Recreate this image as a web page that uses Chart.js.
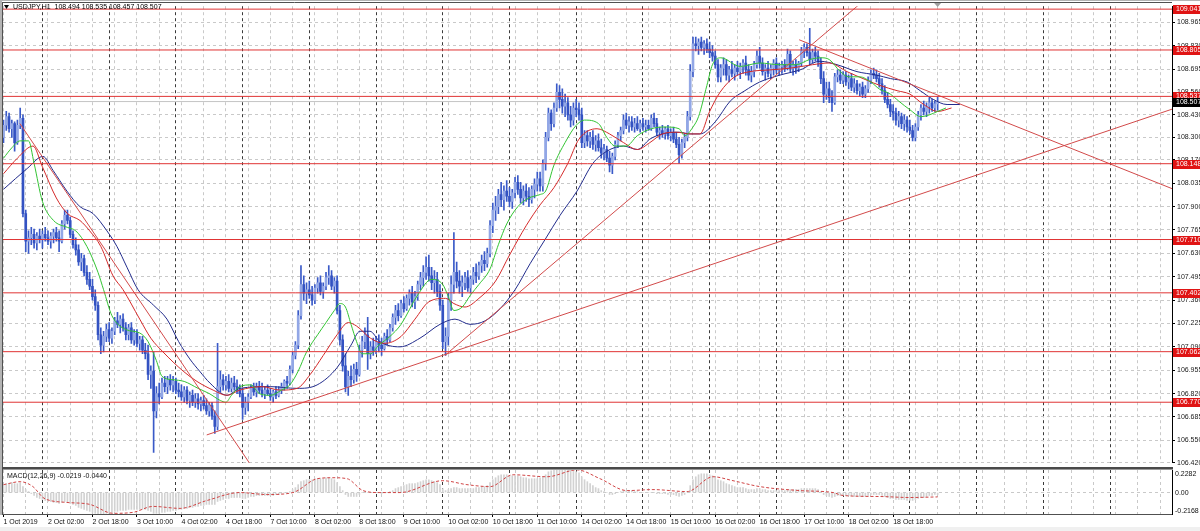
<!DOCTYPE html>
<html><head><meta charset="utf-8">
<script src="https://cdn.jsdelivr.net/npm/chart.js@4.4.1/dist/chart.umd.min.js"></script>
<style>
html,body{margin:0;padding:0;background:#fff;}
#wrap{position:relative;width:1200px;height:531px;overflow:hidden;background:#fff;}
#c1{position:absolute;left:0;top:0;}
#c2{position:absolute;left:0;top:469px;}
#foot{position:absolute;left:0;top:527px;width:1200px;height:4px;background:#f0f0f0;}
</style></head>
<body><div id="wrap"><canvas id="c1" width="1200" height="469"></canvas><canvas id="c2" width="1200" height="58"></canvas><div id="foot"></div></div>
<script>
// ---------- DATA ----------
const open = [
108.30,108.37,108.42,108.35,108.38,108.27,108.37,108.41,107.86,107.70,
107.72,107.74,107.69,107.73,107.71,107.74,107.72,107.70,107.73,107.75,
107.72,107.70,107.80,107.85,107.82,107.74,107.68,107.65,107.58,107.60,
107.52,107.48,107.44,107.38,107.33,107.16,107.10,107.15,107.19,107.14,
107.18,107.24,107.22,107.25,107.20,107.16,107.20,107.13,107.17,107.11,
107.13,107.07,107.05,106.93,106.95,106.72,106.82,106.80,106.88,106.86,
106.90,106.87,106.89,106.84,106.83,106.80,106.84,106.78,106.81,106.77,
106.79,106.76,106.78,106.75,106.72,106.75,106.69,106.63,106.86,106.90,
106.87,106.89,106.85,106.88,106.86,106.84,106.82,106.74,106.77,106.80,
106.85,106.83,106.86,106.84,106.82,106.84,106.82,106.80,106.83,106.81,
106.84,106.86,106.89,106.88,106.96,107.04,107.10,107.27,107.45,107.40,
107.42,107.39,107.36,107.43,107.46,107.41,107.44,107.49,107.50,107.44,
107.47,107.30,107.13,106.98,106.86,106.92,106.90,106.96,106.93,107.07,
107.12,107.16,107.05,107.09,107.07,107.12,107.10,107.08,107.15,107.13,
107.20,107.26,107.30,107.27,107.34,107.31,107.37,107.40,107.35,107.38,
107.45,107.49,107.52,107.55,107.50,107.46,107.48,107.41,107.33,107.12,
107.15,107.36,107.45,107.52,107.47,107.44,107.46,107.49,107.43,107.48,
107.52,107.50,107.56,107.59,107.57,107.63,107.79,107.88,107.90,107.97,
107.94,107.99,107.96,107.93,107.98,108.04,108.00,107.95,107.99,107.96,
107.94,108.00,108.03,108.06,108.02,108.15,108.30,108.44,108.38,108.47,
108.56,108.52,108.48,108.50,108.43,108.40,108.47,108.46,108.43,108.27,
108.31,108.28,108.30,108.26,108.28,108.24,108.21,108.23,108.18,108.14,
108.19,108.26,108.31,108.34,108.40,108.37,108.39,108.36,108.38,108.35,
108.38,108.36,108.37,108.35,108.41,108.38,108.33,108.34,108.32,108.35,
108.31,108.33,108.29,108.26,108.20,108.27,108.30,108.42,108.68,108.84,
108.83,108.85,108.82,108.84,108.81,108.79,108.77,108.72,108.65,108.70,
108.72,108.66,108.69,108.67,108.70,108.68,108.71,108.73,108.69,108.66,
108.68,108.72,108.77,108.73,108.68,108.70,108.67,108.70,108.73,108.69,
108.71,108.72,108.70,108.78,108.70,108.72,108.70,108.73,108.80,108.82,
108.79,108.75,108.79,108.77,108.74,108.64,108.55,108.58,108.53,108.50,
108.65,108.66,108.63,108.66,108.62,108.64,108.59,108.61,108.57,108.59,
108.55,108.58,108.63,108.67,108.66,108.64,108.61,108.57,108.52,108.49,
108.45,108.44,108.40,108.42,108.38,108.40,108.36,108.34,108.30,108.36,
108.43,108.47,108.45,108.48,108.50,108.47,108.494];
const high = [
108.40,108.45,108.44,108.40,108.39,108.40,108.47,108.43,107.88,107.76,
107.78,107.77,107.75,107.77,107.76,107.78,107.76,107.75,107.77,107.78,
107.76,107.82,107.88,107.88,107.84,107.76,107.72,107.68,107.63,107.62,
107.56,107.52,107.48,107.42,107.35,107.20,107.18,107.22,107.23,107.20,
107.26,107.29,107.27,107.28,107.23,107.22,107.23,107.19,107.19,107.15,
107.15,107.11,107.10,106.98,107.06,106.86,106.88,106.91,106.92,106.92,
106.93,106.92,106.91,106.88,106.87,106.86,106.86,106.83,106.84,106.82,
106.82,106.80,106.81,106.79,106.77,106.77,106.72,107.11,106.95,106.93,
106.92,106.93,106.91,106.92,106.90,106.87,106.85,106.80,106.82,106.87,
106.88,106.88,106.89,106.88,106.86,106.87,106.85,106.84,106.86,106.86,
106.88,106.90,106.92,106.98,107.06,107.12,107.30,107.56,107.50,107.46,
107.47,107.44,107.45,107.49,107.50,107.46,107.52,107.56,107.53,107.49,
107.50,107.33,107.16,107.05,106.95,106.98,106.99,107.00,107.10,107.15,
107.20,107.26,107.12,107.14,107.15,107.16,107.14,107.17,107.19,107.22,
107.28,107.33,107.34,107.36,107.38,107.39,107.42,107.44,107.41,107.47,
107.52,107.56,107.61,107.62,107.55,107.53,107.52,107.45,107.36,107.20,
107.40,107.50,107.75,107.58,107.53,107.50,107.52,107.53,107.50,107.55,
107.57,107.58,107.62,107.64,107.66,107.82,107.92,107.96,108.00,108.04,
108.02,108.05,108.01,108.00,108.07,108.08,108.04,108.02,108.03,108.01,
108.02,108.06,108.10,108.10,108.17,108.33,108.47,108.46,108.50,108.61,
108.60,108.58,108.55,108.53,108.48,108.50,108.52,108.50,108.47,108.34,
108.34,108.33,108.34,108.31,108.32,108.29,108.26,108.25,108.22,108.21,
108.28,108.33,108.36,108.43,108.44,108.42,108.42,108.41,108.42,108.40,
108.41,108.40,108.40,108.43,108.44,108.41,108.36,108.37,108.36,108.37,
108.35,108.36,108.33,108.30,108.29,108.32,108.45,108.72,108.88,108.88,
108.87,108.88,108.86,108.87,108.85,108.83,108.80,108.75,108.72,108.76,
108.75,108.71,108.74,108.72,108.74,108.73,108.75,108.77,108.72,108.71,
108.74,108.80,108.82,108.76,108.72,108.74,108.72,108.75,108.76,108.73,
108.74,108.75,108.81,108.80,108.74,108.75,108.74,108.82,108.84,108.84,
108.93,108.81,108.82,108.80,108.76,108.68,108.62,108.62,108.57,108.67,
108.69,108.69,108.68,108.68,108.66,108.67,108.64,108.63,108.61,108.62,
108.60,108.65,108.69,108.70,108.69,108.67,108.64,108.60,108.56,108.52,
108.49,108.47,108.45,108.44,108.43,108.42,108.40,108.37,108.38,108.45,
108.49,108.51,108.50,108.53,108.52,108.51,108.535];
const low = [
108.27,108.34,108.33,108.30,108.22,108.26,108.35,107.84,107.64,107.63,
107.68,107.66,107.65,107.69,107.66,107.70,107.68,107.66,107.69,107.70,
107.64,107.69,107.77,107.80,107.72,107.66,107.62,107.56,107.53,107.50,
107.45,107.42,107.36,107.30,107.13,107.05,107.06,107.12,107.12,107.11,
107.16,107.20,107.17,107.18,107.13,107.13,107.11,107.10,107.09,107.07,
107.05,107.02,106.90,106.85,106.48,106.68,106.76,106.79,106.83,106.82,
106.84,106.83,106.82,106.80,106.78,106.77,106.76,106.74,106.75,106.74,
106.73,106.72,106.73,106.70,106.69,106.67,106.59,106.61,106.83,106.84,
106.84,106.83,106.83,106.84,106.82,106.80,106.67,106.70,106.72,106.79,
106.81,106.80,106.82,106.80,106.79,106.81,106.78,106.77,106.79,106.80,
106.82,106.84,106.85,106.87,106.94,107.02,107.08,107.25,107.36,107.34,
107.37,107.33,107.34,107.40,107.39,107.37,107.42,107.45,107.42,107.40,
107.28,107.10,106.95,106.83,106.81,106.86,106.88,106.89,106.92,107.03,
107.08,106.96,107.02,107.04,107.05,107.06,107.04,107.07,107.10,107.12,
107.18,107.22,107.24,107.26,107.29,107.30,107.33,107.32,107.31,107.36,
107.42,107.44,107.48,107.47,107.42,107.40,107.38,107.30,107.08,107.04,
107.10,107.30,107.40,107.43,107.40,107.38,107.42,107.41,107.40,107.45,
107.46,107.48,107.52,107.53,107.55,107.61,107.75,107.82,107.86,107.90,
107.88,107.93,107.90,107.89,107.95,107.97,107.92,107.91,107.93,107.90,
107.92,107.95,107.99,107.99,107.99,108.11,108.28,108.34,108.36,108.45,
108.47,108.44,108.42,108.40,108.36,108.37,108.42,108.40,108.24,108.24,
108.25,108.24,108.23,108.22,108.22,108.18,108.17,108.16,108.10,108.09,
108.17,108.24,108.28,108.32,108.35,108.33,108.34,108.33,108.34,108.33,
108.34,108.33,108.34,108.34,108.36,108.31,108.29,108.30,108.29,108.29,
108.28,108.27,108.24,108.15,108.18,108.24,108.28,108.40,108.65,108.80,
108.78,108.80,108.78,108.79,108.76,108.74,108.70,108.62,108.62,108.66,
108.63,108.62,108.65,108.63,108.66,108.64,108.67,108.66,108.63,108.62,
108.65,108.70,108.70,108.66,108.63,108.65,108.64,108.66,108.67,108.66,
108.67,108.68,108.69,108.68,108.66,108.67,108.68,108.71,108.76,108.77,
108.72,108.73,108.74,108.71,108.61,108.50,108.52,108.50,108.45,108.49,
108.62,108.61,108.61,108.60,108.58,108.57,108.56,108.55,108.54,108.53,
108.53,108.56,108.61,108.64,108.62,108.59,108.55,108.50,108.47,108.42,
108.40,108.37,108.36,108.35,108.34,108.33,108.32,108.28,108.28,108.34,
108.40,108.43,108.42,108.44,108.45,108.45,108.457];
const close = [
108.37,108.42,108.35,108.38,108.27,108.37,108.41,107.86,107.70,107.72,
107.74,107.69,107.73,107.71,107.74,107.72,107.70,107.73,107.75,107.72,
107.70,107.80,107.85,107.82,107.74,107.68,107.65,107.58,107.60,107.52,
107.48,107.44,107.38,107.33,107.16,107.10,107.15,107.19,107.14,107.18,
107.24,107.22,107.25,107.20,107.16,107.20,107.13,107.17,107.11,107.13,
107.07,107.05,106.93,106.95,106.72,106.82,106.80,106.88,106.86,106.90,
106.87,106.89,106.84,106.83,106.80,106.84,106.78,106.81,106.77,106.79,
106.76,106.78,106.75,106.72,106.75,106.69,106.63,106.86,106.90,106.87,
106.89,106.85,106.88,106.86,106.84,106.82,106.74,106.77,106.80,106.85,
106.83,106.86,106.84,106.82,106.84,106.82,106.80,106.83,106.81,106.84,
106.86,106.89,106.88,106.96,107.04,107.10,107.27,107.45,107.40,107.42,
107.39,107.36,107.43,107.46,107.41,107.44,107.49,107.50,107.44,107.47,
107.30,107.13,106.98,106.86,106.92,106.90,106.96,106.93,107.07,107.12,
107.16,107.05,107.09,107.07,107.12,107.10,107.08,107.15,107.13,107.20,
107.26,107.30,107.27,107.34,107.31,107.37,107.40,107.35,107.38,107.45,
107.49,107.52,107.55,107.50,107.46,107.48,107.41,107.33,107.12,107.15,
107.36,107.45,107.52,107.47,107.44,107.46,107.49,107.43,107.48,107.52,
107.50,107.56,107.59,107.57,107.63,107.79,107.88,107.90,107.97,107.94,
107.99,107.96,107.93,107.98,108.04,108.00,107.95,107.99,107.96,107.94,
108.00,108.03,108.06,108.02,108.15,108.30,108.44,108.38,108.47,108.56,
108.52,108.48,108.50,108.43,108.40,108.47,108.46,108.43,108.27,108.31,
108.28,108.30,108.26,108.28,108.24,108.21,108.23,108.18,108.14,108.19,
108.26,108.31,108.34,108.40,108.37,108.39,108.36,108.38,108.35,108.38,
108.36,108.37,108.35,108.41,108.38,108.33,108.34,108.32,108.35,108.31,
108.33,108.29,108.26,108.20,108.27,108.30,108.42,108.68,108.84,108.83,
108.85,108.82,108.84,108.81,108.79,108.77,108.72,108.65,108.70,108.72,
108.66,108.69,108.67,108.70,108.68,108.71,108.73,108.69,108.66,108.68,
108.72,108.77,108.73,108.68,108.70,108.67,108.70,108.73,108.69,108.71,
108.72,108.70,108.78,108.70,108.72,108.70,108.73,108.80,108.82,108.79,
108.75,108.79,108.77,108.74,108.64,108.55,108.58,108.53,108.50,108.65,
108.66,108.63,108.66,108.62,108.64,108.59,108.61,108.57,108.59,108.55,
108.58,108.63,108.67,108.66,108.64,108.61,108.57,108.52,108.49,108.45,
108.44,108.40,108.42,108.38,108.40,108.36,108.34,108.30,108.36,108.43,
108.47,108.45,108.48,108.50,108.47,108.494,108.507];

// Alligator lines (bar position, price)
const lipsIdx = [0,3,6,9,11,14,18,23,26,30,34,36,39,44,49,52,55,57,61,65,70,74,78,80,82,85,89,92,96,100,103,106,109,113,116,119,121,123,125,127,129,132,135,139,143,149,154,158,160,162,165,168,171,175,178,181,185,189,193,195,198,202,206,209,214,217,220,224,228,233,238,243,245,248,250,253,255,258,265,272,279,285,290,294,297,301,304,308,312,315,319,322,326,330,333,336,339];
const lipsVal = [108.18,108.24,108.28,108.28,108.15,107.93,107.82,107.78,107.76,107.67,107.52,107.42,107.27,107.19,107.17,107.12,107.01,106.92,106.90,106.89,106.85,106.82,106.78,106.77,106.81,106.86,106.87,106.82,106.81,106.84,106.87,106.95,107.06,107.16,107.23,107.30,107.34,107.32,107.22,107.12,107.05,107.05,107.10,107.15,107.22,107.39,107.48,107.45,107.38,107.30,107.32,107.39,107.45,107.54,107.68,107.80,107.90,107.95,107.97,107.99,108.14,108.27,108.37,108.40,108.38,108.30,108.25,108.25,108.31,108.35,108.36,108.35,108.31,108.36,108.42,108.60,108.72,108.76,108.71,108.73,108.72,108.72,108.75,108.76,108.75,108.68,108.65,108.65,108.62,108.58,108.55,108.51,108.46,108.42,108.43,108.45,108.47];
const teethIdx = [0,5,10.6,14,19,23,27.5,31,35,39.4,43,49,53,57.4,64.6,69.6,75.4,80.4,85,93,99.5,105.6,110.3,115,120,124,127,132,137,143,148,153,159,162,166,171,177,182,188,193,198,203,207,213.5,218,223,228,232.5,237,242,247,250.5,254,257.7,263,268.5,275.7,283,291,297,303.4,310.6,315.3,321.4,326,331,336,341];
const teethVal = [108.09,108.18,108.25,108.13,107.95,107.86,107.82,107.76,107.67,107.50,107.42,107.25,107.14,107.06,106.95,106.89,106.84,106.81,106.84,106.86,106.84,106.85,106.93,107.04,107.16,107.23,107.21,107.14,107.11,107.15,107.25,107.35,107.37,107.34,107.32,107.37,107.47,107.62,107.79,107.91,108.01,108.15,108.29,108.35,108.32,108.27,108.23,108.27,108.32,108.33,108.32,108.32,108.45,108.56,108.65,108.68,108.69,108.70,108.72,108.73,108.68,108.63,108.60,108.57,108.55,108.49,108.45,108.47];
const jawIdx = [0,8.5,14.2,17.8,22.8,27.5,32.2,37.2,40.8,44.4,48.4,54,58.8,63,67,70.5,74.3,80.4,85,96,105.6,112.8,120,125,128.2,131.8,135.4,142.6,149.8,157,162.4,167.8,173.2,178.6,184,189.4,194.8,200.2,206.3,212,217,223,228,232.5,237,243,247,250.5,256,261.4,266.7,272,279.3,286.5,293.7,299.8,307,314,319,325,329.7,334.4,339.4,344];
const jawVal = [108.00,108.12,108.19,108.11,107.99,107.90,107.86,107.76,107.67,107.55,107.42,107.33,107.25,107.12,107.02,106.95,106.88,106.81,106.85,106.86,106.85,106.87,106.97,107.10,107.18,107.18,107.12,107.09,107.14,107.22,107.25,107.22,107.24,107.31,107.42,107.57,107.71,107.85,107.99,108.15,108.22,108.25,108.23,108.29,108.32,108.33,108.32,108.32,108.39,108.51,108.57,108.62,108.66,108.69,108.74,108.72,108.68,108.66,108.64,108.62,108.57,108.52,108.49,108.49];

// MACD histogram per bar and signal line
const macdHist = [
0.08,0.09,0.09,0.10,0.09,0.09,0.10,0.06,0.03,0.01,-0.01,-0.03,-0.05,-0.06,
-0.07,-0.08,-0.09,-0.09,-0.10,-0.10,-0.11,-0.10,-0.09,-0.10,-0.11,-0.12,-0.13,-0.15,
-0.16,-0.17,-0.18,-0.19,-0.20,-0.21,-0.22,-0.22,-0.22,-0.21,-0.21,-0.20,-0.19,-0.19,
-0.18,-0.18,-0.18,-0.17,-0.17,-0.17,-0.17,-0.17,-0.17,-0.17,-0.18,-0.19,-0.21,-0.21,
-0.21,-0.20,-0.20,-0.19,-0.19,-0.18,-0.18,-0.17,-0.17,-0.16,-0.16,-0.15,-0.15,-0.14,
-0.14,-0.13,-0.13,-0.12,-0.12,-0.12,-0.12,-0.09,-0.08,-0.07,-0.06,-0.06,-0.05,-0.05,
-0.05,-0.05,-0.06,-0.06,-0.05,-0.04,-0.04,-0.03,-0.03,-0.03,-0.03,-0.03,-0.03,-0.03,
-0.02,-0.02,-0.01,0.00,0.00,0.01,0.03,0.05,0.08,0.11,0.12,0.13,0.13,0.13,
0.13,0.14,0.14,0.14,0.15,0.15,0.14,0.13,0.10,0.06,0.02,-0.02,-0.04,-0.04,
-0.04,-0.04,-0.02,0.00,0.01,0.00,0.00,0.00,0.00,0.00,-0.01,0.00,0.00,0.01,
0.02,0.04,0.05,0.06,0.07,0.08,0.09,0.09,0.09,0.10,0.11,0.12,0.13,0.13,
0.12,0.11,0.10,0.08,0.04,0.02,0.03,0.04,0.05,0.05,0.04,0.04,0.04,0.04,
0.04,0.04,0.05,0.05,0.06,0.06,0.07,0.10,0.13,0.15,0.17,0.18,0.18,0.18,
0.17,0.17,0.17,0.17,0.16,0.15,0.15,0.14,0.14,0.14,0.14,0.15,0.16,0.18,
0.21,0.22,0.23,0.25,0.26,0.26,0.25,0.24,0.23,0.22,0.21,0.20,0.16,0.13,
0.11,0.09,0.07,0.05,0.04,0.02,0.01,0.00,-0.02,-0.02,-0.01,0.00,0.01,0.02,
0.02,0.02,0.02,0.01,0.01,0.00,0.00,0.00,0.00,0.00,0.00,-0.01,-0.01,-0.01,
-0.01,-0.02,-0.02,-0.02,-0.03,-0.04,-0.03,-0.02,0.01,0.07,0.13,0.16,0.18,0.19,
0.19,0.19,0.18,0.17,0.15,0.13,0.12,0.11,0.09,0.08,0.07,0.06,0.05,0.05,
0.05,0.04,0.03,0.03,0.03,0.04,0.04,0.03,0.03,0.02,0.02,0.02,0.02,0.02,
0.02,0.02,0.03,0.03,0.03,0.03,0.03,0.04,0.04,0.04,0.04,0.04,0.04,0.03,
0.01,-0.02,-0.03,-0.04,-0.05,-0.04,-0.03,-0.03,-0.03,-0.03,-0.03,-0.03,-0.04,-0.04,
-0.04,-0.04,-0.04,-0.03,-0.02,-0.02,-0.02,-0.02,-0.03,-0.04,-0.05,-0.06,-0.06,-0.07,
-0.07,-0.07,-0.07,-0.08,-0.08,-0.08,-0.07,-0.06,-0.05,-0.05,-0.04,-0.03,-0.03,-0.02,-0.022];
const signalIdx = [0,6,10.6,14.2,16.7,22.8,31.1,39.4,46.6,53.8,63.5,73.2,85,94.8,104.1,112.8,118.5,123.6,129.3,135.4,142.6,158,166.7,175,183.3,195.5,206.3,214.6,224.3,233.6,245.9,255.2,262.4,272.1,286.5,298.4,302,315.3,326.1,336];
const signalVal = [0.08,0.11,0.06,-0.05,-0.08,-0.10,-0.12,-0.21,-0.20,-0.14,-0.16,-0.08,0.00,-0.02,0.00,0.14,0.15,0.14,0.02,0.00,0.00,0.12,0.08,0.06,0.18,0.16,0.23,0.14,0.02,0.03,0.01,0.16,0.12,0.06,0.02,0.00,-0.03,-0.04,-0.05,-0.044];

// Axes text
const xLabels = ['1 Oct 2019','2 Oct 02:00','2 Oct 18:00','3 Oct 10:00','4 Oct 02:00','4 Oct 18:00','7 Oct 10:00','8 Oct 02:00','8 Oct 18:00','9 Oct 10:00','10 Oct 02:00','10 Oct 18:00','11 Oct 10:00','14 Oct 02:00','14 Oct 18:00','15 Oct 10:00','16 Oct 02:00','16 Oct 18:00','17 Oct 10:00','18 Oct 02:00','18 Oct 18:00'];
const yTicks = [108.965,108.830,108.695,108.560,108.430,108.300,108.170,108.035,107.900,107.765,107.630,107.495,107.360,107.225,107.090,106.955,106.820,106.685,106.550,106.420];
const levels = [109.041,108.805,108.537,108.148,107.710,107.402,107.062,106.770];
const bidPrice = 108.507;
const titleText = 'USDJPY,H1  108.494 108.535 108.457 108.507';
const macdText = 'MACD(12,26,9) -0.0219 -0.0440';
const macdLabels = [0.2282, 0.00, -0.2168];
// trendlines: start bar, start price, end bar, end price
const trendX1 = [73.1, 5.9, 158.8, 286.2];
const trendY1 = [106.581, 108.380, 107.041, 108.864];
const trendX2 = [420.3, 89.0, 320.0, 420.3];
const trendY2 = [108.463, 106.406, 109.234, 108.004];

// ---------- CHART ----------
Chart.defaults.font.family = "'Liberation Sans', Arial, sans-serif";
Chart.defaults.font.size = 7;
Chart.defaults.color = '#111';
const FONT = "7px 'Liberation Sans', Arial, sans-serif";
const xMin = -0.18, xMax = 420.3;
const pts = (idx, val) => idx.map((x, k) => ({x, y: val[k]}));
const gridTicks = [];
for (let v = 0; v <= 416; v += 8) gridTicks.push(v);
for (let v = 14; v <= 420; v += 24) gridTicks.push(v);
gridTicks.sort((a, b) => a - b);
const isDay = v => (v - 14) % 24 === 0;
const gridCol = c => (c.tick && isDay(c.tick.value)) ? '#3a3a3a' : '#c9c9c9';
const isLab = v => v % 16 === 0 && v / 16 < xLabels.length;

const wickCol = '#3a5ac8', bullCol = '#92a7e6', bearCol = '#3352c2';
const lineCol = '#e03434', trendCol = '#d24a4a';

const datasets = [];
levels.forEach(v => datasets.push({type:'line', data:[{x:xMin,y:v},{x:xMax,y:v}], borderColor:lineCol, borderWidth:1, pointRadius:0, order:1}));
trendX1.forEach((x, k) => datasets.push({type:'line', data:[{x, y:trendY1[k]},{x:trendX2[k], y:trendY2[k]}], borderColor:trendCol, borderWidth:1, pointRadius:0, order:1}));
datasets.push({type:'line', data:pts(lipsIdx, lipsVal), borderColor:'#33c433', borderWidth:1, pointRadius:0, cubicInterpolationMode:'monotone', order:3});
datasets.push({type:'line', data:pts(teethIdx, teethVal), borderColor:'#d42a2a', borderWidth:1, pointRadius:0, cubicInterpolationMode:'monotone', order:4});
datasets.push({type:'line', data:pts(jawIdx, jawVal), borderColor:'#222c8c', borderWidth:1, pointRadius:0, cubicInterpolationMode:'monotone', order:5});
datasets.push({type:'bar', data:open.map((o, i) => ({x:i, y:[o, close[i]]})), backgroundColor: c => close[c.dataIndex] >= open[c.dataIndex] ? bullCol : bearCol, barThickness:2, minBarLength:1, grouped:false, order:7});
datasets.push({type:'bar', data:high.map((h, i) => ({x:i, y:[low[i], h]})), backgroundColor:wickCol, barThickness:1, grouped:false, order:8});
datasets.push({type:'line', data:[{x:xMin,y:bidPrice},{x:xMax,y:bidPrice}], borderColor:'#c4c4c4', borderWidth:1, pointRadius:0, order:9});

const mainDecor = {
  id:'mainDecor',
  afterDraw(chart){
    const {ctx, chartArea:a} = chart; const y = chart.scales.y;
    ctx.save();
    ctx.fillStyle = '#b4b4b4'; ctx.fillRect(0, 0, 2, chart.height); ctx.fillRect(0, 0, 1200, 1);
    ctx.strokeStyle = '#505050'; ctx.lineWidth = 1;
    ctx.beginPath(); ctx.moveTo(2, 2.5); ctx.lineTo(a.right, 2.5); ctx.moveTo(2.5, 2); ctx.lineTo(2.5, chart.height); ctx.stroke();
    ctx.fillStyle = '#4a4a4a'; ctx.fillRect(2, 467, a.right - 1, 2);
    ctx.font = FONT; ctx.textBaseline = 'middle'; ctx.textAlign = 'left';
    for (const v of levels) {
      const py = Math.round(y.getPixelForValue(v));
      ctx.fillStyle = '#e01414'; ctx.fillRect(a.right + 1, py - 4, 27, 9);
      ctx.fillStyle = '#fff'; ctx.fillText(v.toFixed(3), a.right + 4, py + 0.5);
    }
    const pb = Math.round(y.getPixelForValue(bidPrice));
    ctx.fillStyle = '#000'; ctx.fillRect(a.right + 1, pb - 4, 27, 9);
    ctx.fillStyle = '#fff'; ctx.fillText(bidPrice.toFixed(3), a.right + 4, pb + 0.5);
    ctx.fillStyle = '#000';
    ctx.beginPath(); ctx.moveTo(4, 5); ctx.lineTo(9, 5); ctx.lineTo(6.5, 9); ctx.closePath(); ctx.fill();
    ctx.fillText(titleText, 13, 7.5);
    ctx.fillStyle = '#a0a0a0';
    const sx = chart.scales.x.getPixelForValue(close.length - 1);
    ctx.beginPath(); ctx.moveTo(sx - 3.5, 3); ctx.lineTo(sx + 3.5, 3); ctx.lineTo(sx, 7); ctx.closePath(); ctx.fill();
    ctx.restore();
  }
};

new Chart(document.getElementById('c1'), {
  type:'bar',
  data:{datasets},
  plugins:[mainDecor],
  options:{
    responsive:false, animation:false, devicePixelRatio:1,
    layout:{padding:{left:3, top:3, right:0, bottom:3}},
    plugins:{legend:{display:false}, tooltip:{enabled:false}},
    scales:{
      x:{type:'linear', min:xMin, max:xMax, offset:false,
        afterBuildTicks: s => { s.ticks = gridTicks.map(v => ({value:v})); },
        afterFit: s => { s.height = 0; },
        ticks:{display:false},
        grid:{color:gridCol, drawTicks:false, offset:false, lineWidth:1},
        border:{display:false, dash:[3,3]}},
      y:{type:'linear', position:'right', min:106.420, max:109.058,
        afterBuildTicks: s => { s.ticks = yTicks.map(v => ({value:v})); },
        afterFit: s => { s.width = 28; },
        ticks:{callback: v => Number(v).toFixed(3), padding:2, autoSkip:false, color:'#1a1a1a', font:{size:7}},
        grid:{color:'#c9c9c9', tickColor:'#000', tickLength:3, drawTicks:true, lineWidth:1},
        border:{display:true, color:'#000', width:1, dash:[3,3]}}
    }
  }
});

const macdDecor = {
  id:'macdDecor',
  afterDraw(chart){
    const {ctx, chartArea:a} = chart; const y = chart.scales.y;
    ctx.save();
    ctx.fillStyle = '#b4b4b4'; ctx.fillRect(0, 0, 2, a.bottom + 1);
    ctx.fillStyle = '#9a9a9a'; ctx.fillRect(2, 0, a.right - 1, 1);
    ctx.strokeStyle = '#505050'; ctx.lineWidth = 1;
    ctx.beginPath(); ctx.moveTo(2.5, 0); ctx.lineTo(2.5, a.bottom + 1);
    ctx.moveTo(2, Math.round(a.bottom) + 0.5); ctx.lineTo(a.right, Math.round(a.bottom) + 0.5); ctx.stroke();
    ctx.font = FONT; ctx.textBaseline = 'middle'; ctx.textAlign = 'left'; ctx.fillStyle = '#111';
    ctx.fillText(macdText, 7, a.top + 6);
    ctx.fillText(macdLabels[0].toFixed(4), a.right + 3, a.top + 4.5);
    ctx.fillText(macdLabels[1].toFixed(2), a.right + 3, y.getPixelForValue(macdLabels[1]));
    ctx.fillText(macdLabels[2].toFixed(4), a.right + 3, a.bottom - 2.5);
    ctx.restore();
  }
};

new Chart(document.getElementById('c2'), {
  type:'bar',
  data:{datasets:[
    {type:'line', data:pts(signalIdx, signalVal), borderColor:'#d04444', borderWidth:1, borderDash:[3,2], pointRadius:0, cubicInterpolationMode:'monotone', order:1},
    {type:'bar', data:macdHist.map((v, i) => ({x:i, y:v})), backgroundColor:'#d2d2d2', barThickness:1, grouped:false, order:2}
  ]},
  plugins:[macdDecor],
  options:{
    responsive:false, animation:false, devicePixelRatio:1,
    layout:{padding:{left:3, top:1, right:0, bottom:0}},
    plugins:{legend:{display:false}, tooltip:{enabled:false}},
    scales:{
      x:{type:'linear', min:xMin, max:xMax, offset:false,
        afterBuildTicks: s => { s.ticks = gridTicks.map(v => ({value:v})); },
        afterFit: s => { s.height = 13; },
        ticks:{autoSkip:false, maxRotation:0, minRotation:0, align:'start', padding:1, color:'#111', font:{size:7},
          callback: v => isLab(v) ? xLabels[v / 16] : ''},
        grid:{color:gridCol, drawTicks:true, tickLength:3, offset:false, lineWidth:1,
          tickColor: c => (c.tick && isLab(c.tick.value)) ? '#000' : 'rgba(0,0,0,0)'},
        border:{display:false, dash:[3,3]}},
      y:{type:'linear', position:'right', min:-0.2168, max:0.2282,
        afterBuildTicks: s => { s.ticks = [{value:0}]; },
        afterFit: s => { s.width = 28; },
        ticks:{display:false},
        grid:{color:'#c9c9c9', drawTicks:false, lineWidth:1},
        border:{display:true, color:'#000', width:1, dash:[3,3]}}
    }
  }
});
</script>
</body></html>
